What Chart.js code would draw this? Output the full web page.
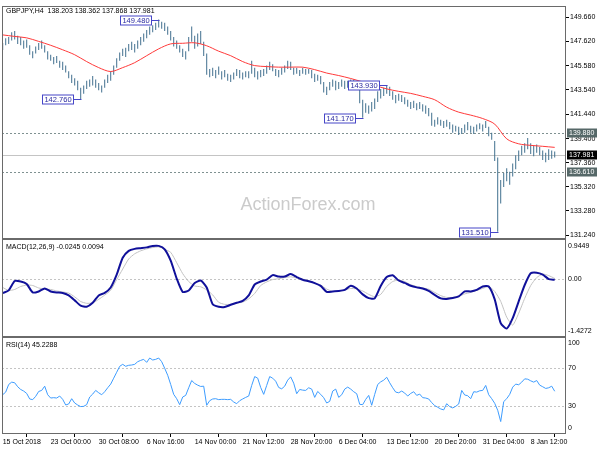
<!DOCTYPE html>
<html>
<head>
<meta charset="utf-8">
<script src="https://cdn.jsdelivr.net/npm/chart.js@4.4.1/dist/chart.umd.min.js"></script>
<style>
  html, body { margin: 0; padding: 0; background: #fff; }
  canvas { display: block; }
</style>
</head>
<body>
<canvas id="chart" width="600" height="450"></canvas>
<script>
// GBPJPY H4, one bar every 2 H4 periods (index = H4 bar number)
const lows = [
  146.9, 147.3, 147.4, 147.7, 147.8, 147.4, 147.3, 147.0, 147.1, 146.5,
  146.2, 146.6, 146.9, 147.0, 146.7, 146.1, 146.0, 145.7, 145.8, 145.4,
  145.2, 145.0, 144.5, 144.1, 143.9, 143.5, 142.76, 143.2, 143.6, 143.8,
  143.9, 143.7, 143.5, 143.3, 143.7, 144.1, 144.3, 144.8, 145.4, 146.0,
  146.4, 146.3, 146.8, 146.9, 146.7, 147.0, 147.3, 147.6, 147.9, 148.2,
  148.4, 148.6, 148.8, 148.7, 148.5, 148.2, 147.7, 147.2, 147.0, 146.7,
  146.3, 146.1, 146.8, 147.6, 147.0, 147.2, 147.4, 146.4, 144.8, 144.6,
  144.7, 144.5, 144.8, 144.4, 144.6, 144.3, 144.2, 144.4, 144.7, 144.5,
  144.4, 144.6, 144.5, 144.9, 144.6, 144.4, 144.6, 144.7, 144.9, 145.2,
  145.1, 144.7, 144.6, 144.8, 145.0, 145.3, 145.2, 144.8, 144.9, 144.7,
  144.9, 144.8, 144.9, 144.5, 144.2, 144.3, 144.0, 143.3, 143.1, 143.5,
  143.8, 143.5, 143.6, 143.8, 143.6, 143.7, 143.8, 143.9, 143.6, 142.4,
  141.17, 141.6, 141.5, 141.7, 141.9, 142.5, 142.8, 143.0, 143.2, 143.0,
  142.7, 142.4, 142.6, 142.5, 142.3, 142.1, 141.9, 142.0, 141.8, 141.9,
  141.7, 141.5, 141.3, 140.5, 140.4, 140.6, 140.5, 140.3, 140.4, 140.2,
  139.9, 140.0, 139.7, 139.8, 139.9, 140.1, 139.9, 139.8, 140.0, 140.2,
  140.0, 140.3, 139.6, 139.3, 137.5, 131.51, 133.9, 135.3, 135.8, 135.5,
  136.2, 136.8, 137.5, 138.0, 138.2, 138.5, 138.1, 137.9, 138.2, 138.0,
  137.6, 137.4, 137.6, 137.7, 137.8
];
const highs = [
  147.5, 147.9, 148.0, 148.4, 148.5, 148.1, 148.0, 147.7, 147.8, 147.3,
  146.8, 147.2, 147.5, 147.7, 147.3, 146.8, 146.5, 146.3, 146.4, 146.0,
  145.9, 145.6, 145.1, 144.8, 144.5, 144.3, 143.7, 143.9, 144.3, 144.4,
  144.7, 144.4, 144.1, 143.9, 144.4, 144.8, 145.1, 145.6, 146.2, 146.7,
  147.0, 147.1, 147.4, 147.6, 147.4, 147.7, 148.0, 148.3, 148.6, 148.9,
  149.0, 149.2, 149.48, 149.3, 149.2, 148.9, 148.5, 148.0, 147.7, 147.3,
  147.0, 146.8, 148.0, 148.9, 148.1, 148.3, 148.5, 147.6, 146.6, 145.3,
  145.4, 145.2, 145.5, 145.1, 145.2, 144.9, 144.8, 145.0, 145.3, 145.2,
  145.0, 145.1, 145.1, 146.0, 145.4, 145.1, 145.2, 145.3, 145.6, 145.9,
  145.7, 145.3, 145.2, 145.4, 145.6, 146.0, 145.9, 145.4, 145.4, 145.2,
  145.4, 145.3, 145.3, 145.2, 144.9, 144.8, 144.7, 144.2, 143.8, 144.2,
  144.4, 144.3, 144.2, 144.4, 144.3, 144.3, 144.4, 144.4, 144.3, 143.9,
  142.7, 142.4, 142.2, 142.5, 142.8, 143.4, 143.6, 143.7, 143.93, 143.8,
  143.4, 143.1, 143.2, 143.1, 142.9, 142.7, 142.5, 142.6, 142.4, 142.5,
  142.3, 142.2, 142.0, 141.6, 141.0, 141.2, 141.0, 140.9, 141.0, 140.8,
  140.6, 140.5, 140.4, 140.3, 140.6, 140.8, 140.5, 140.4, 140.6, 140.7,
  140.6, 140.9, 140.4, 139.9, 139.2, 137.8, 135.9, 136.5, 136.9, 136.6,
  137.3, 138.0, 138.4, 138.8, 139.0, 139.46, 139.0, 138.8, 138.9, 138.7,
  138.4, 138.2, 138.5, 138.4, 138.3
];
// moving average, one value every 8 H4 bars
const maVals = [
  148.18, 148.05, 147.93, 147.63, 147.30, 146.92, 146.50, 145.92, 145.41, 145.08,
  145.41, 145.83, 146.42, 147.00, 147.42, 147.47, 147.51, 147.26, 146.80, 146.42,
  145.92, 145.58, 145.50, 145.45, 145.45, 145.45, 145.24, 144.95, 144.74, 144.49,
  144.20, 143.90, 143.61, 143.40, 143.23, 142.98, 142.69, 142.06, 141.64, 141.39,
  141.10, 140.63, 139.38, 138.96, 138.83, 138.75, 138.66
];
// MACD(12,26,9), one value every 4 H4 bars
const macdVals = [
  -0.358, -0.29, -0.057, -0.069, -0.131, -0.341, -0.316, -0.242, -0.316, -0.341,
  -0.353, -0.415, -0.539, -0.670, -0.699, -0.600, -0.415, -0.353, -0.217, 0.104,
  0.524, 0.697, 0.746, 0.764, 0.783, 0.820, 0.820, 0.734, 0.450, 0.005,
  -0.329, -0.292, -0.106, -0.044, -0.217, -0.638, -0.699, -0.704, -0.650, -0.600,
  -0.551, -0.415, -0.143, -0.069, -0.020, 0.091, 0.054, 0.054, 0.116, 0.042,
  -0.027, -0.064, -0.109, -0.178, -0.329, -0.316, -0.306, -0.279, -0.175, -0.242,
  -0.390, -0.482, -0.489, -0.180, 0.042, 0.086, -0.044, -0.104, -0.173, -0.215,
  -0.242, -0.304, -0.403, -0.489, -0.502, -0.482, -0.440, -0.316, -0.316, -0.279,
  -0.193, -0.193, -0.514, -1.107, -1.243, -0.983, -0.563, -0.156, 0.136, 0.153,
  0.104, -0.007, -0.0245
];
const signalVals = [
  -0.217, -0.292, -0.267, -0.193, -0.156, -0.168, -0.230, -0.255, -0.267, -0.304,
  -0.329, -0.358, -0.452, -0.568, -0.613, -0.600, -0.514, -0.408, -0.287, -0.020,
  0.242, 0.494, 0.623, 0.697, 0.746, 0.778, 0.796, 0.734, 0.660, 0.400,
  0.128, -0.069, -0.180, -0.200, -0.279, -0.403, -0.588, -0.638, -0.638, -0.613,
  -0.581, -0.502, -0.366, -0.168, -0.079, -0.020, 0.000, 0.030, 0.049, 0.017,
  -0.007, -0.044, -0.106, -0.156, -0.257, -0.316, -0.309, -0.279, -0.242, -0.255,
  -0.304, -0.390, -0.447, -0.390, -0.193, -0.069, -0.032, -0.069, -0.148, -0.193,
  -0.230, -0.262, -0.341, -0.420, -0.465, -0.465, -0.440, -0.378, -0.341, -0.292,
  -0.242, -0.193, -0.316, -0.563, -0.958, -1.156, -0.860, -0.489, -0.168, 0.030,
  0.116, 0.079, 0.0094
];
// RSI(14), one value every 2 H4 bars
const rsiVals = [
  41.5, 44.3, 52.4, 54.9, 54.2, 50.0, 47.1, 45.4, 42.9, 37.0,
  36.3, 39.8, 45.0, 46.1, 50.6, 41.5, 38.0, 38.4, 38.0, 40.1,
  36.6, 30.6, 31.7, 37.3, 32.7, 30.6, 28.9, 29.2, 31.0, 39.1,
  42.2, 46.1, 43.6, 41.5, 44.7, 48.9, 52.8, 59.1, 65.4, 71.7,
  73.8, 71.7, 72.8, 73.1, 73.8, 76.6, 78.0, 79.1, 75.9, 80.5,
  78.4, 79.1, 80.5, 76.6, 69.6, 62.2, 52.4, 41.9, 37.3, 31.0,
  39.1, 40.8, 48.9, 56.6, 53.5, 51.7, 50.3, 50.6, 30.3, 35.2,
  37.0, 37.3, 36.3, 36.6, 36.6, 36.3, 36.6, 33.8, 32.0, 35.2,
  37.0, 38.7, 40.1, 51.4, 60.8, 59.1, 49.2, 41.9, 51.4, 60.8,
  59.1, 55.9, 49.2, 47.8, 50.6, 57.0, 60.5, 53.8, 42.6, 47.1,
  46.4, 46.1, 48.9, 47.5, 38.7, 45.0, 41.9, 38.4, 32.7, 34.5,
  45.4, 47.5, 38.7, 41.5, 47.5, 49.6, 47.5, 44.7, 42.6, 31.3,
  31.0, 36.6, 40.8, 30.3, 41.9, 52.4, 55.2, 57.0, 60.1, 54.2,
  48.9, 44.3, 43.6, 45.4, 43.3, 40.1, 42.9, 44.7, 40.8, 42.2,
  38.4, 38.0, 37.0, 33.1, 30.0, 28.2, 26.4, 25.4, 32.0, 28.9,
  27.5, 29.2, 31.7, 46.1, 41.2, 40.5, 37.3, 44.7, 44.3, 45.7,
  46.1, 51.4, 41.5, 37.3, 32.4, 25.0, 13.0, 34.2, 37.3, 41.9,
  49.6, 52.8, 52.1, 54.9, 58.4, 58.0, 56.3, 54.9, 56.6, 51.7,
  50.0, 48.2, 48.9, 50.6, 45.2
];

const xLabels = ['15 Oct 2018', '23 Oct 00:00', '30 Oct 08:00', '6 Nov 16:00', '14 Nov 00:00',
  '21 Nov 12:00', '28 Nov 20:00', '6 Dec 04:00', '13 Dec 12:00', '20 Dec 20:00',
  '31 Dec 04:00', '8 Jan 12:00'];
const priceTicks = [149.66, 147.62, 145.58, 143.54, 141.44, 139.40, 137.36, 135.32, 133.28, 131.24];
const rsiTicks = [70, 30];
const macdLimits = ['0.9449', '-1.4272'];
const rsiLimits = ['100', '0'];

const srLevels = [139.88, 136.61];
const lastClose = 137.981;
// swing highs/lows marked on the chart: bar number (in lows/highs) and price
const markBars = [52, 26, 128, 120, 165];
const markVals = [149.48, 142.76, 143.93, 141.17, 131.51];

const titleText = 'GBPJPY,H4  138.203 138.362 137.868 137.981';
const macdText = 'MACD(12,26,9) -0.0245 0.0094';
const rsiText = 'RSI(14) 45.2288';
const watermark = 'ActionForex.com';

const FONT = '"Liberation Sans", Arial, sans-serif';
Chart.defaults.font.family = FONT;
Chart.defaults.font.size = 7;
Chart.defaults.color = '#000';

const fixWidth = s => { s.width = 34; };

const overlay = {
  id: 'overlay',
  beforeDatasetsDraw(chart) {
    const { ctx, chartArea: a, scales: s } = chart;
    ctx.save();
    ctx.font = '18px ' + FONT;
    ctx.fillStyle = '#cbcbcb';
    ctx.textAlign = 'center';
    ctx.textBaseline = 'middle';
    ctx.fillText(watermark, 308, 205);

    const hline = (scale, v, color, dash) => {
      const y = Math.round(scale.getPixelForValue(v)) + 0.5;
      ctx.beginPath();
      ctx.setLineDash(dash);
      ctx.strokeStyle = color;
      ctx.lineWidth = 1;
      ctx.moveTo(a.left, y);
      ctx.lineTo(a.right, y);
      ctx.stroke();
    };
    srLevels.forEach(v => hline(s.y, v, '#7f9191', [2, 2]));
    hline(s.y, lastClose, '#c4c4c4', []);
    hline(s.macd, 0, '#c4c4c4', [2, 2]);
    rsiTicks.forEach(v => hline(s.rsi, v, '#c4c4c4', [2, 2]));
    ctx.restore();
  },
  afterDraw(chart) {
    const { ctx, chartArea: a, scales: s } = chart;
    ctx.save();
    // panel frames
    ctx.strokeStyle = '#6a6a6a';
    ctx.lineWidth = 1;
    ['y', 'macd', 'rsi'].forEach(id => {
      const sc = s[id];
      ctx.strokeRect(a.left + 0.5, Math.round(sc.top) + 0.5, a.right - a.left - 1, Math.round(sc.bottom - sc.top) - 1);
    });

    // price boxes on the right axis
    ctx.textBaseline = 'middle';
    ctx.textAlign = 'left';
    ctx.font = '7px ' + FONT;
    const priceBox = (v, bg) => {
      const y = Math.round(s.y.getPixelForValue(v));
      ctx.fillStyle = bg;
      ctx.fillRect(a.right + 1, y - 4.5, 30, 9);
      ctx.fillStyle = '#fff';
      ctx.fillText(v.toFixed(3), a.right + 3, y + 0.5);
    };
    srLevels.forEach(v => priceBox(v, '#566868'));
    priceBox(lastClose, '#000');

    // swing high/low labels
    ctx.font = '7.5px ' + FONT;
    ctx.textAlign = 'center';
    markBars.forEach((j, n) => {
      const bx = s.x.getPixelForValue(j * 2);
      const y = Math.round(s.y.getPixelForValue(markVals[n])) + 0.5;
      const right = Math.round(bx) - 7;
      ctx.fillStyle = '#fff';
      ctx.fillRect(right - 32, y - 4.5, 32, 9);
      ctx.strokeStyle = '#4646c8';
      ctx.strokeRect(right - 32 + 0.5, y - 4.5, 31, 9);
      ctx.beginPath();
      ctx.moveTo(right, y);
      ctx.lineTo(Math.round(bx) + 0.5, y);
      ctx.stroke();
      ctx.fillStyle = '#2a2aa0';
      ctx.fillText(markVals[n].toFixed(3), right - 16, y + 0.5);
    });

    // panel captions
    ctx.font = '7px ' + FONT;
    ctx.textAlign = 'left';
    ctx.fillStyle = '#000';
    ctx.fillText(titleText, 6, s.y.top + 5);
    ctx.fillText(macdText, 6, s.macd.top + 8);
    ctx.fillText(rsiText, 6, s.rsi.top + 8);

    // indicator window limits
    ctx.fillText(macdLimits[0], a.right + 2, s.macd.top + 7);
    ctx.fillText(macdLimits[1], a.right + 2, s.macd.bottom - 6);
    ctx.fillText(rsiLimits[0], a.right + 2, s.rsi.top + 6.5);
    ctx.fillText(rsiLimits[1], a.right + 2, s.rsi.bottom - 5.5);
    ctx.restore();
  }
};

new Chart(document.getElementById('chart'), {
  type: 'bar',
  data: {
    datasets: [
      {
        type: 'bar',
        yAxisID: 'y',
        order: 2,
        data: lows.map((lo, j) => ({ x: j * 2, y: [lo, highs[j]] })),
        backgroundColor: '#41708f',
        borderWidth: 0,
        inflateAmount: 0,
        barThickness: 1
      },
      {
        type: 'line',
        yAxisID: 'y',
        order: 1,
        data: maVals.map((v, k) => ({ x: k * 8, y: v })),
        borderColor: '#ff3a3a',
        borderWidth: 1,
        pointRadius: 0,
        tension: 0.3
      },
      {
        type: 'line',
        yAxisID: 'macd',
        order: 1,
        data: macdVals.map((v, k) => ({ x: k * 4, y: v })),
        borderColor: '#10109a',
        borderWidth: 2,
        pointRadius: 0,
        tension: 0.2
      },
      {
        type: 'line',
        yAxisID: 'macd',
        order: 2,
        data: signalVals.map((v, k) => ({ x: k * 4, y: v })),
        borderColor: '#c2c2c2',
        borderWidth: 1,
        pointRadius: 0,
        tension: 0.2
      },
      {
        type: 'line',
        yAxisID: 'rsi',
        order: 1,
        data: rsiVals.map((v, j) => ({ x: j * 2, y: v })),
        borderColor: '#3d9cff',
        borderWidth: 1,
        pointRadius: 0,
        tension: 0
      }
    ]
  },
  options: {
    responsive: false,
    animation: false,
    events: [],
    layout: { padding: { left: 2, top: 2, right: 0, bottom: 0 } },
    plugins: { legend: { display: false }, tooltip: { enabled: false } },
    scales: {
      x: {
        type: 'linear',
        offset: false,
        min: -0.467,
        max: 375.53,
        afterBuildTicks: sc => { sc.ticks = xLabels.map((_, n) => ({ value: n * 32 })); },
        afterFit: sc => { sc.height = 16; },
        grid: { drawOnChartArea: false, drawTicks: true, tickLength: 3, tickColor: '#000' },
        border: { display: false },
        ticks: { autoSkip: false, maxRotation: 0, minRotation: 0, align: 'start', padding: 1,
                 callback: (v, i) => xLabels[i] }
      },
      y: {
        type: 'linear',
        position: 'right',
        stack: 'pane',
        stackWeight: 235,
        beginAtZero: false,
        min: 130.911,
        max: 150.609,
        afterBuildTicks: sc => { sc.ticks = priceTicks.map(v => ({ value: v })); },
        afterFit: fixWidth,
        grid: { drawOnChartArea: false, drawTicks: true, tickLength: 3, tickColor: '#000' },
        border: { display: false },
        ticks: { autoSkip: false, padding: 1, callback: v => v.toFixed(3) }
      },
      macd: {
        type: 'linear',
        position: 'right',
        stack: 'pane',
        stackWeight: 99,
        min: -1.4519,
        max: 0.9943,
        afterBuildTicks: sc => { sc.ticks = [{ value: 0 }]; },
        afterFit: fixWidth,
        grid: { display: false, drawTicks: false },
        border: { display: false },
        ticks: { autoSkip: false, padding: 2, callback: () => '0.00' }
      },
      rsi: {
        type: 'linear',
        position: 'right',
        stack: 'pane',
        stackWeight: 98,
        min: -0.21,
        max: 102.9,
        afterBuildTicks: sc => { sc.ticks = rsiTicks.map(v => ({ value: v })); },
        afterFit: fixWidth,
        grid: { display: false, drawTicks: false },
        border: { display: false },
        ticks: { autoSkip: false, padding: 2, callback: v => String(v) }
      }
    }
  },
  plugins: [overlay]
});
</script>
</body>
</html>
